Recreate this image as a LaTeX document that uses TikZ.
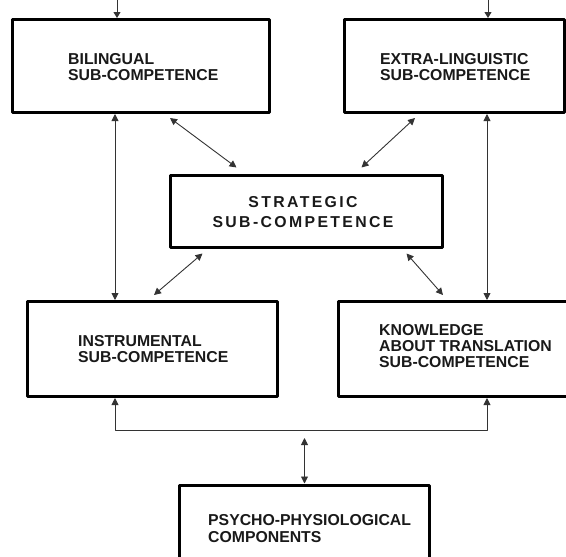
\documentclass[tikz,border=0pt]{standalone}
\usepackage{fontspec}
\setmainfont{Liberation Sans}
\newfontfamily\widefont[LetterSpace=15]{Liberation Sans}
\usetikzlibrary{arrows.meta}

\begin{document}
\begin{tikzpicture}[x=1pt, y=-1pt, line cap=round, line join=round,
	box/.style={draw, line width=3pt, rectangle, inner sep=0pt},
	lbl/.style={font=\fontsize{15.8}{16}\selectfont\bfseries, align=left, anchor=west, inner sep=0pt, text=black!90},
	link/.style={draw, line width=0.9pt, black!80, {Triangle[length=7pt,width=7pt]}-{Triangle[length=7pt,width=7pt]}},
	feed/.style={draw, line width=0.9pt, black!80, -{Triangle[length=6pt,width=7pt]}}]
	
	\useasboundingbox (0,0) rectangle (566,557);
	\clip (0,0) rectangle (566,557);
	
	% Boxes
	\node[box, minimum width=257pt, minimum height=93pt] (bil) at (141,66) {};
	\node[box, minimum width=220pt, minimum height=93pt] (ext) at (454,66) {};
	\node[box, minimum width=272pt, minimum height=72pt] (str) at (306.5,211) {};
	\node[box, minimum width=250pt, minimum height=95pt] (ins) at (152.5,349) {};
	\node[box, minimum width=262pt, minimum height=95pt] (kno) at (469,349) {};
	\node[box, minimum width=250pt, minimum height=90pt] (psy) at (304.5,530) {};
	
	% Labels
	\node[lbl] (bil-txt) at (68,67.5) {BILINGUAL\\SUB-COMPETENCE};
	\node[lbl] (ext-txt) at (380,67.5) {EXTRA-LINGUISTIC\\SUB-COMPETENCE};
	\node[lbl, anchor=center, align=center, font=\widefont\fontsize{15.8}{20}\selectfont\bfseries] (str-txt) at (303,212) {STRATEGIC\\SUB-COMPETENCE};
	\node[lbl] (ins-txt) at (78,349) {INSTRUMENTAL\\SUB-COMPETENCE};
	\node[lbl] (kno-txt) at (379,346) {KNOWLEDGE\\ABOUT TRANSLATION\\SUB-COMPETENCE};
	\node[lbl, font=\fontsize{15.8}{17}\selectfont\bfseries] (psy-txt) at (208,528.5) {PSYCHO-PHYSIOLOGICAL\\COMPONENTS};
	
	% Inputs from above
	\coordinate (bil-in) at (117,0);
	\coordinate (ext-in) at (488,0);
	\draw[feed] (bil-in) -- (bil-in |- bil.north);
	\draw[feed] (ext-in) -- (ext-in |- ext.north);
	
	% Vertical links
	\coordinate (lx) at (115,0);
	\coordinate (rx) at (487,0);
	\draw[link] (bil.south -| lx) -- (ins.north -| lx);
	\draw[link] (ext.south -| rx) -- (kno.north -| rx);
	
	% Diagonal links to the strategic box
	\draw[link] ([xshift=29pt,yshift=-4pt]bil.south) -- ([xshift=-70pt,yshift=6pt]str.north);
	\draw[link] ([xshift=-39pt,yshift=-4pt]ext.south) -- ([xshift=55pt,yshift=6pt]str.north);
	\draw[link] ([xshift=-104pt,yshift=-5pt]str.south) -- ([xshift=1.5pt,yshift=5pt]ins.north);
	\draw[link] ([xshift=100pt,yshift=-5pt]str.south) -- ([xshift=-26pt,yshift=5pt]kno.north);
	
	% Bus to the lower boxes
	\coordinate (bus) at (0,430);
	\draw[link] (ins.south -| lx) -- (lx |- bus) -- (rx |- bus) -- (kno.south -| rx);
	\draw[link] ([yshift=-8pt]psy.north |- bus) -- (psy.north);
	
\end{tikzpicture}
\end{document}
